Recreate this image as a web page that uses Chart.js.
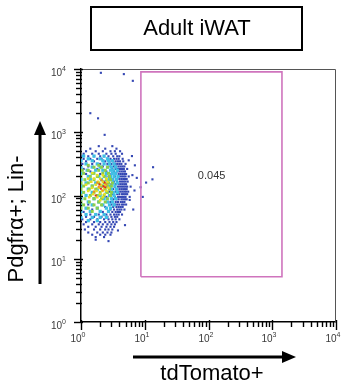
<!DOCTYPE html>
<html>
<head>
<meta charset="utf-8">
<script src="https://cdn.jsdelivr.net/npm/chart.js@4"></script>
<style>
  html, body { margin: 0; padding: 0; background: #fff; }
  #wrap { width: 345px; height: 389px; }
</style>
</head>
<body>
<div id="wrap"><canvas id="grafico" width="345" height="389"></canvas></div>
<script>
// ---- data (y value, then the x values on that row) ----
const titulo = "Adult iWAT";
const eixoX = "tdTomato+";
const eixoY = "Pdgfr\u03b1+; Lin-";
const ticksDecadas = [1, 10, 100, 1000, 10000];
const gateX = [8.7, 1420];
const gateY = [5.2, 9000];
const gateValor = "0.045";
const gateRotuloPos = [112, 204];

const azulLinhas = [
  [603, [1.9, 3.1]],
  [550, [1.4, 2.4, 3.6]],
  [501, [1.2, 1.7, 2.2, 2.9, 3.4, 4.1]],
  [457, [1.1, 1.5, 1.9, 2.5, 3.0, 3.5, 4.4]],
  [417, [1.05, 1.3, 1.6, 2.0, 2.3, 2.7, 3.2, 3.7, 4.0]],
  [380, [1.1, 1.4, 1.8, 2.1, 2.6, 2.9, 3.3, 3.6, 3.9, 4.5]],
  [347, [1.2, 1.6, 2.4, 2.8, 3.2, 3.5, 3.8, 4.1, 4.6]],
  [316, [1.05, 1.5, 2.0, 2.6, 3.0, 3.4, 3.7, 4.0, 4.3, 5.0]],
  [288, [1.3, 2.2, 2.9, 3.3, 3.6, 3.9, 4.2, 4.5, 4.8]],
  [263, [1.1, 1.8, 3.1, 3.5, 3.8, 4.1, 4.4, 4.7, 5.3]],
  [240, [1.4, 2.5, 3.3, 3.7, 4.0, 4.3, 4.6, 4.9]],
  [219, [1.2, 2.0, 3.0, 3.5, 3.9, 4.2, 4.5, 4.8, 5.1]],
  [200, [2.7, 3.4, 3.8, 4.1, 4.4, 4.7, 5.0, 5.6]],
  [182, [1.6, 3.2, 3.6, 4.0, 4.3, 4.6, 4.9, 5.2]],
  [166, [2.3, 3.3, 3.7, 4.1, 4.4, 4.7, 5.0, 5.4]],
  [151, [3.0, 3.5, 3.9, 4.2, 4.5, 4.8, 5.1]],
  [138, [2.6, 3.4, 3.8, 4.1, 4.4, 4.7, 5.0, 5.3, 6.0]],
  [126, [3.2, 3.6, 4.0, 4.3, 4.6, 4.9, 5.2]],
  [115, [2.8, 3.5, 3.9, 4.2, 4.5, 4.8, 5.1, 5.5]],
  [105, [3.1, 3.7, 4.0, 4.4, 4.7, 5.0, 5.3]],
  [95, [2.5, 3.4, 3.8, 4.1, 4.4, 4.7, 5.0, 5.8]],
  [87, [3.2, 3.6, 3.9, 4.3, 4.6, 4.9, 5.2]],
  [79, [2.9, 3.5, 3.8, 4.2, 4.5, 4.8]],
  [72, [1.3, 3.0, 3.4, 3.7, 4.0, 4.4, 4.7, 5.1]],
  [66, [2.4, 3.2, 3.6, 3.9, 4.2, 4.5]],
  [60, [1.5, 2.9, 3.3, 3.7, 4.0, 4.3, 4.8]],
  [55, [1.1, 2.2, 2.7, 3.1, 3.5, 3.8, 4.1]],
  [50, [1.4, 1.9, 2.5, 2.9, 3.3, 3.6, 3.9, 4.4]],
  [46, [1.2, 1.6, 2.1, 2.6, 3.0, 3.4, 3.7]],
  [42, [1.05, 1.4, 1.8, 2.3, 2.7, 3.1, 3.5, 4.0]],
  [38, [1.2, 1.6, 2.0, 2.4, 2.8, 3.2, 3.6]],
  [35, [1.1, 1.5, 1.9, 2.2, 2.6, 3.0, 3.4]],
  [32, [1.3, 1.7, 2.1, 2.5, 2.9, 3.3]],
  [29, [1.15, 1.6, 2.0, 2.4, 2.7, 3.1]],
  [26, [1.3, 1.8, 2.2, 2.6, 3.0]],
  [24, [1.5, 2.0, 2.4, 2.9]],
  [22, [1.7, 2.3]]
];
const azulSoltos = [
  [2.05, 8700], [4.7, 8300], [6.5, 6500], [1.4, 2000], [1.85, 1660], [2.35, 910],
  [13.5, 280], [13.2, 180], [10.5, 160], [8.6, 135], [9.3, 95],
  [6.3, 420], [5.6, 360], [7.0, 300], [6.4, 210], [7.5, 190], [6.9, 120],
  [5.8, 85], [6.6, 60], [4.9, 34], [3.8, 28], [2.7, 19], [1.7, 20]
];
const cianoLinhas = [
  [420, [1.1, 1.6, 2.3]],
  [380, [1.3, 2.0, 2.6]],
  [355, [1.0, 1.5, 2.2, 2.7, 3.1]],
  [316, [1.2, 1.8, 2.3, 2.8, 3.3]],
  [282, [1.0, 1.5, 2.0, 2.6, 3.0, 3.5]],
  [251, [1.25, 1.7, 2.2, 2.9, 3.2, 3.7]],
  [224, [1.0, 1.5, 2.5, 3.1, 3.5]],
  [200, [1.3, 1.9, 2.4, 2.9, 3.3, 3.8]],
  [178, [1.0, 1.4, 2.1, 2.8, 3.1, 3.6]],
  [158, [1.2, 1.7, 2.6, 3.2, 3.7]],
  [141, [1.0, 1.5, 2.2, 2.9, 3.4]],
  [126, [1.3, 1.8, 3.0, 3.6]],
  [112, [1.0, 1.5, 2.5, 3.2, 3.7]],
  [100, [1.2, 2.0, 2.8, 3.3]],
  [89, [1.0, 1.6, 2.3, 3.0, 3.5]],
  [79, [1.3, 1.9, 2.6, 3.1]],
  [71, [1.0, 1.5, 2.2, 2.8, 3.3]],
  [63, [1.2, 1.8, 2.5, 2.9]],
  [56, [1.0, 1.4, 2.0, 2.7]],
  [50, [1.2, 1.7, 2.3]],
  [45, [1.0, 1.5, 2.0, 2.5]],
  [40, [1.3, 1.8]]
];
const verdeLinhas = [
  [300, [1.3, 1.9]],
  [280, [1.6, 2.1, 2.6]],
  [250, [1.05, 1.3, 1.9, 2.4]],
  [224, [1.1, 1.6, 2.2, 2.7]],
  [200, [1.0, 1.4, 1.8, 2.3, 2.8]],
  [178, [1.15, 1.6, 2.5, 2.9]],
  [158, [1.0, 1.3, 1.9, 2.3, 2.7, 3.1]],
  [141, [1.1, 1.5, 2.1, 2.6, 3.0]],
  [126, [1.0, 1.35, 1.7, 2.4, 2.8]],
  [112, [1.1, 1.6, 2.0, 2.6, 3.0]],
  [100, [1.0, 1.4, 1.8, 2.3, 2.9]],
  [89, [1.15, 1.6, 2.1, 2.6]],
  [79, [1.0, 1.35, 1.9, 2.4]],
  [71, [1.1, 1.6, 2.1]],
  [63, [1.0, 1.3, 1.8]],
  [56, [1.5]]
];
const amareloLinhas = [
  [225, [1.5]],
  [210, [1.8, 2.2]],
  [185, [1.3, 1.6, 2.0, 2.5]],
  [165, [1.45, 1.85, 2.2, 2.6]],
  [148, [1.2, 1.7, 2.05, 2.4]],
  [132, [1.5, 1.9, 2.3, 2.7]],
  [118, [1.3, 1.75, 2.15, 2.5]],
  [105, [1.55, 2.0, 2.35]],
  [94, [1.35, 1.8, 2.2]],
  [84, [2.0]]
];
const laranjaPts = [[2.1, 175], [1.8, 160], [2.5, 150], [2.2, 120], [1.9, 138], [1.6, 115]];
const vermelhoPts = [[2.35, 160], [1.95, 150], [2.25, 140], [2.05, 128], [2.4, 135], [1.7, 100]];

function pegarPontos(linhas) {
  const pts = [];
  linhas.forEach(function (l) {
    l[1].forEach(function (x) { pts.push({ x: x, y: l[0] }); });
  });
  return pts;
}
function pegarPares(pares) {
  return pares.map(function (p) { return { x: p[0], y: p[1] }; });
}

const fonte = "'Liberation Sans', Arial, sans-serif";

function ticksLog(scale) {
  const t = [];
  for (let d = 0; d < ticksDecadas.length - 1; d++) {
    for (let m = 1; m < 10; m++) t.push({ value: ticksDecadas[d] * m });
  }
  t.push({ value: ticksDecadas[ticksDecadas.length - 1] });
  scale.ticks = t;
}
function expoente(v) {
  const l = Math.log10(v), e = Math.round(l);
  return Math.abs(l - e) < 1e-6 ? e : null;
}

function pontos(label, data, cor, ordem, raio) {
  return {
    label: label, data: data, order: ordem,
    backgroundColor: cor, borderWidth: 0,
    pointStyle: "rect", pointRadius: raio, pointHoverRadius: raio
  };
}

const extras = {
  id: "extras",
  afterDraw: function (chart) {
    const c = chart.ctx, a = chart.chartArea;
    const sx = chart.scales.x, sy = chart.scales.y;
    c.save();
    // moldura superior e direita
    c.strokeStyle = "#555";
    c.lineWidth = 1;
    c.beginPath();
    c.moveTo(a.left, a.top + 0.5);
    c.lineTo(a.right - 0.5, a.top + 0.5);
    c.lineTo(a.right - 0.5, a.bottom);
    c.stroke();

    // marcas e rotulos dos eixos
    c.strokeStyle = "#000";
    c.lineWidth = 1.4;
    c.fillStyle = "#3a3a3a";
    sy.ticks.forEach(function (t) {
      const py = Math.round(sy.getPixelForValue(t.value)) + 0.5;
      const e = expoente(t.value);
      c.beginPath();
      c.moveTo(a.left - (e !== null ? 7 : 5), py);
      c.lineTo(a.left + (e !== null ? 2 : 1), py);
      c.stroke();
      if (e !== null) {
        c.font = "7px " + fonte;
        const we = c.measureText(String(e)).width;
        c.textAlign = "left";
        c.textBaseline = "alphabetic";
        c.fillText(String(e), a.left - 15 - we, py + 1);
        c.font = "10px " + fonte;
        c.textAlign = "right";
        c.fillText("10", a.left - 15 - we, py + 6);
      }
    });
    sx.ticks.forEach(function (t) {
      const px = Math.round(sx.getPixelForValue(t.value)) + 0.5;
      const e = expoente(t.value);
      c.beginPath();
      c.moveTo(px, a.bottom - (e !== null ? 2 : 1));
      c.lineTo(px, a.bottom + (e !== null ? 8 : 5));
      c.stroke();
      if (e !== null) {
        c.font = "10px " + fonte;
        c.textAlign = "right";
        c.textBaseline = "alphabetic";
        c.fillText("10", px, 342);
        c.font = "7px " + fonte;
        c.textAlign = "left";
        c.fillText(String(e), px, 337);
      }
    });

    // valor do gate
    c.fillStyle = "#333";
    c.font = "11px " + fonte;
    c.textAlign = "center";
    c.textBaseline = "middle";
    c.fillText(gateValor, sx.getPixelForValue(gateRotuloPos[0]), sy.getPixelForValue(gateRotuloPos[1]));

    // titulo em caixa
    c.strokeStyle = "#000";
    c.lineWidth = 2;
    c.strokeRect(91, 7, 211, 43);
    c.fillStyle = "#000";
    c.font = "22px " + fonte;
    c.fillText(titulo, 197, 29);

    // eixo x: seta e nome
    c.lineWidth = 3;
    c.beginPath();
    c.moveTo(133, 357);
    c.lineTo(284, 357);
    c.stroke();
    c.beginPath();
    c.moveTo(296, 357);
    c.lineTo(282, 351);
    c.lineTo(282, 363);
    c.closePath();
    c.fill();
    c.fillText(eixoX, 212, 374);

    // eixo y: seta e nome
    c.beginPath();
    c.moveTo(40, 284);
    c.lineTo(40, 133);
    c.stroke();
    c.beginPath();
    c.moveTo(40, 121);
    c.lineTo(34, 135);
    c.lineTo(46, 135);
    c.closePath();
    c.fill();
    c.translate(17, 219);
    c.rotate(-Math.PI / 2);
    c.fillText(eixoY, 0, 0);
    c.restore();
  }
};

const ctx = document.getElementById("grafico").getContext("2d");

const grafico = new Chart(ctx, {
  type: "scatter",
  data: {
    datasets: [
      {
        label: "gate",
        data: [
          { x: gateX[0], y: gateY[0] }, { x: gateX[0], y: gateY[1] },
          { x: gateX[1], y: gateY[1] }, { x: gateX[1], y: gateY[0] },
          { x: gateX[0], y: gateY[0] }
        ],
        showLine: true, fill: false, pointRadius: 0,
        borderColor: "#cf74bd", borderWidth: 1.6, order: 0
      },
      pontos("vermelho", pegarPares(vermelhoPts), "#e3261d", 1, 1.4),
      pontos("laranja", pegarPares(laranjaPts), "#f2901c", 2, 1.5),
      pontos("amarelo", pegarPontos(amareloLinhas), "#e6e022", 3, 1.8),
      pontos("verde", pegarPontos(verdeLinhas), "#8ccf4a", 4, 2.1),
      pontos("ciano", pegarPontos(cianoLinhas), "#3fbfe4", 5, 2.3),
      pontos("azul", pegarPontos(azulLinhas).concat(pegarPares(azulSoltos)), "#3548b4", 6, 1.5)
    ]
  },
  options: {
    responsive: false,
    animation: false,
    devicePixelRatio: 1,
    layout: { autoPadding: false, padding: { left: 47, right: 9, top: 69, bottom: 37 } },
    plugins: { legend: { display: false }, tooltip: { enabled: false }, title: { display: false } },
    scales: {
      x: {
        type: "logarithmic", min: 1, max: 10000,
        afterBuildTicks: ticksLog,
        afterFit: function (s) { s.height = 30; },
        border: { display: true, color: "#000", width: 1.5 },
        grid: { display: false },
        ticks: { display: false, autoSkip: false }
      },
      y: {
        type: "logarithmic", min: 1, max: 10000,
        afterBuildTicks: ticksLog,
        afterFit: function (s) { s.width = 34; },
        border: { display: true, color: "#000", width: 1.5 },
        grid: { display: false },
        ticks: { display: false, autoSkip: false }
      }
    }
  },
  plugins: [extras]
});
</script>
</body>
</html>
